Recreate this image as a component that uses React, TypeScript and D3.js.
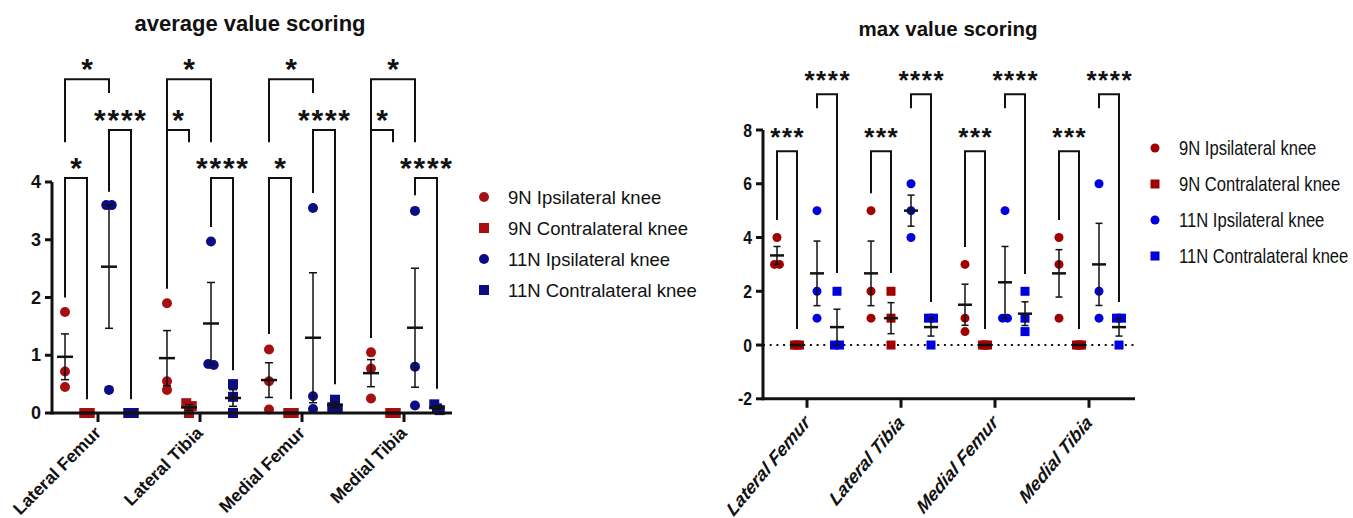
import { useMemo } from "react";
import * as d3 from "d3";

type Bracket = {
    cat: number;
    from: number;
    to: number;
    label: string;
    top: number;
    left: number;
    right: number;
};

const categories = ["Lateral Femur", "Lateral Tibia", "Medial Femur", "Medial Tibia"];
const seriesNames = [
    "9N Ipsilateral knee",
    "9N Contralateral knee",
    "11N Ipsilateral knee",
    "11N Contralateral knee",
];
const shapes = ["circle", "square", "circle", "square"];

// average value scoring, one row of replicates per category
const avgIpsi9 = [[1.75, 0.72, 0.45], [1.9, 0.55, 0.4], [1.1, 0.55, 0.06], [1.05, 0.77, 0.25]];
const avgContra9 = [[0, 0, 0], [0.17, 0.12, 0], [0, 0, 0], [0, 0, 0]];
const avgIpsi11 = [[3.6, 3.6, 0.4], [2.97, 0.85, 0.83], [3.55, 0.29, 0.07], [3.5, 0.8, 0.13]];
const avgContra11 = [[0, 0, 0], [0.5, 0.28, 0], [0.23, 0.1, 0.08], [0.15, 0.08, 0.05]];

// max value scoring
const maxIpsi9 = [[4, 3, 3], [5, 2, 1], [3, 1, 0.5], [4, 3, 1]];
const maxContra9 = [[0, 0, 0], [2, 1, 0], [0, 0, 0], [0, 0, 0]];
const maxIpsi11 = [[5, 2, 1], [6, 5, 4], [5, 1, 1], [6, 2, 1]];
const maxContra11 = [[2, 0, 0], [1, 1, 0], [2, 1, 0.5], [1, 1, 0]];

const avgTicks = [0, 1, 2, 3, 4];
const maxTicks = [-2, 0, 2, 4, 6, 8];

// significance brackets (series index from/to, heights in data units)
const avgBrackets: Bracket[] = [
    { cat: 0, from: 0, to: 2, label: "*", top: 5.78, left: 4.69, right: 5.54 },
    { cat: 0, from: 2, to: 3, label: "****", top: 4.9, left: 3.83, right: 0.24 },
    { cat: 0, from: 0, to: 1, label: "*", top: 4.07, left: 2.0, right: 0.24 },
    { cat: 1, from: 0, to: 2, label: "*", top: 5.78, left: 4.69, right: 4.69 },
    { cat: 1, from: 0, to: 1, label: "*", top: 4.9, left: 2.15, right: 4.69 },
    { cat: 1, from: 2, to: 3, label: "****", top: 4.07, left: 3.22, right: 0.74 },
    { cat: 2, from: 0, to: 2, label: "*", top: 5.78, left: 4.69, right: 5.54 },
    { cat: 2, from: 2, to: 3, label: "****", top: 4.9, left: 3.81, right: 0.5 },
    { cat: 2, from: 0, to: 1, label: "*", top: 4.07, left: 1.37, right: 0.24 },
    { cat: 3, from: 0, to: 2, label: "*", top: 5.78, left: 4.69, right: 4.69 },
    { cat: 3, from: 0, to: 1, label: "*", top: 4.9, left: 1.3, right: 4.69 },
    { cat: 3, from: 2, to: 3, label: "****", top: 4.07, left: 3.77, right: 0.42 },
];

const maxBrackets: Bracket[] = [
    { cat: 0, from: 2, to: 3, label: "****", top: 9.33, left: 8.81, right: 2.68 },
    { cat: 0, from: 0, to: 1, label: "***", top: 7.21, left: 4.65, right: 0.6 },
    { cat: 1, from: 2, to: 3, label: "****", top: 9.33, left: 8.81, right: 1.6 },
    { cat: 1, from: 0, to: 1, label: "***", top: 7.21, left: 5.65, right: 2.68 },
    { cat: 2, from: 2, to: 3, label: "****", top: 9.33, left: 8.81, right: 2.64 },
    { cat: 2, from: 0, to: 1, label: "***", top: 7.21, left: 3.65, right: 0.6 },
    { cat: 3, from: 2, to: 3, label: "****", top: 9.33, left: 8.81, right: 1.6 },
    { cat: 3, from: 0, to: 1, label: "***", top: 7.21, left: 4.65, right: 0.6 },
];

const ARIAL = "'Liberation Sans', Arial, sans-serif";

type PanelProps = {
    title: string;
    titleX: number;
    titleY: number;
    titleSize: number;
    series: number[][][];
    colors: string[];
    yDomain: [number, number];
    yRange: [number, number];
    xRange: [number, number];
    offsetRange: [number, number];
    axisLeft: number;
    axisRight: number;
    ticks: number[];
    brackets: Bracket[];
    r: number;
    sq: number;
    meanHalf: number;
    capHalf: number;
    narrow: number;
    tickSize: number;
    labelSize: number;
    labelItalic: boolean;
    labelDy: number;
    starSize: number;
    starGap: number;
    zeroLine: boolean;
    legendX: number;
    legendY: number;
    legendStep: number;
    legendSize: number;
};

// spreads replicates that would overlap at the same height
const spread = (vals: number[], y: (v: number) => number, size: number) => {
    const ys = vals.map((v) => y(v));
    const idx = d3.range(vals.length).sort((a, b) => ys[a] - ys[b]);
    const off = vals.map(() => 0);
    let i = 0;
    while (i < idx.length) {
        let j = i;
        while (j + 1 < idx.length && ys[idx[j + 1]] - ys[idx[i]] < size * 0.6) j++;
        const n = j - i + 1;
        const step = n > 1 ? (size * 0.55) / (n - 1) : 0;
        for (let k = 0; k < n; k++) off[idx[i + k]] = (k - (n - 1) / 2) * step;
        i = j + 1;
    }
    return off;
};

const Panel = (p: PanelProps) => {
    const y = d3.scaleLinear().domain(p.yDomain).range(p.yRange);
    const x = d3.scaleBand().domain(categories).range(p.xRange);
    const off = d3.scalePoint<number>().domain([0, 1, 2, 3]).range(p.offsetRange);
    const center = (cat: number) => (x(categories[cat]) ?? 0) + x.bandwidth() / 2;
    const cx = (cat: number, s: number) => center(cat) + (off(s) ?? 0);
    const baseY = p.yRange[0];

    const marks = useMemo(() => {
        const out: JSX.Element[] = [];
        p.series.forEach((ser, s) => {
            ser.forEach((vals, c) => {
                const mx = cx(c, s);
                const mean = d3.mean(vals) ?? 0;
                const sem = (d3.deviation(vals) ?? 0) / Math.sqrt(vals.length);
                const dx = spread(vals, y, shapes[s] === "circle" ? p.r * 2 : p.sq);
                vals.forEach((v, k) => {
                    out.push(
                        shapes[s] === "circle" ? (
                            <circle key={`p${s}-${c}-${k}`} cx={mx + dx[k]} cy={y(v)} r={p.r} fill={p.colors[s]} />
                        ) : (
                            <rect
                                key={`p${s}-${c}-${k}`}
                                x={mx + dx[k] - p.sq / 2}
                                y={y(v) - p.sq / 2}
                                width={p.sq}
                                height={p.sq}
                                fill={p.colors[s]}
                            />
                        )
                    );
                });
                out.push(
                    <g key={`e${s}-${c}`} stroke="#111" fill="none">
                        <line x1={mx} x2={mx} y1={y(mean + sem)} y2={y(mean - sem)} strokeWidth={1.5} />
                        <line x1={mx - p.capHalf} x2={mx + p.capHalf} y1={y(mean + sem)} y2={y(mean + sem)} strokeWidth={1.5} />
                        <line x1={mx - p.capHalf} x2={mx + p.capHalf} y1={y(mean - sem)} y2={y(mean - sem)} strokeWidth={1.5} />
                        <line x1={mx - p.meanHalf} x2={mx + p.meanHalf} y1={y(mean)} y2={y(mean)} strokeWidth={2.5} />
                    </g>
                );
            });
        });
        return out;
    }, [p]);

    return (
        <g>
            <text
                x={p.titleX}
                y={p.titleY}
                textAnchor="middle"
                dominantBaseline="central"
                fontFamily={ARIAL}
                fontWeight="bold"
                fontSize={p.titleSize}
                fill="#111"
            >
                {p.title}
            </text>

            {p.zeroLine && (
                <line
                    x1={p.axisLeft}
                    x2={p.axisRight}
                    y1={y(0)}
                    y2={y(0)}
                    stroke="#111"
                    strokeWidth={2}
                    strokeDasharray="2,4.7"
                />
            )}

            {marks}

            {/* axes */}
            <g stroke="#111" strokeWidth={3} fill="none">
                <line x1={p.axisLeft} x2={p.axisLeft} y1={y(p.ticks[p.ticks.length - 1])} y2={baseY + 1.5} />
                <line x1={p.axisLeft} x2={p.axisRight} y1={baseY} y2={baseY} />
                {p.ticks.map((t) => (
                    <line key={t} x1={p.axisLeft - 7} x2={p.axisLeft} y1={y(t)} y2={y(t)} />
                ))}
                {categories.map((c, i) => (
                    <line key={c} x1={center(i)} x2={center(i)} y1={baseY} y2={baseY + 9} />
                ))}
            </g>
            {p.ticks.map((t) => (
                <text
                    key={t}
                    transform={`translate(${p.axisLeft - 11},${y(t)}) scale(${p.narrow},1)`}
                    textAnchor="end"
                    dominantBaseline="central"
                    fontFamily={ARIAL}
                    fontWeight="bold"
                    fontSize={p.tickSize}
                    fill="#111"
                >
                    {t}
                </text>
            ))}
            {categories.map((c, i) => (
                <text
                    key={c}
                    transform={`translate(${center(i) + 4},${baseY + p.labelDy}) scale(${p.narrow},1) rotate(-45)`}
                    textAnchor="end"
                    fontFamily={ARIAL}
                    fontWeight="bold"
                    fontStyle={p.labelItalic ? "italic" : "normal"}
                    fontSize={p.labelSize}
                    fill="#111"
                >
                    {c}
                </text>
            ))}

            {/* significance brackets */}
            {p.brackets.map((b, i) => {
                const x1 = cx(b.cat, b.from);
                const x2 = cx(b.cat, b.to);
                const spacing = p.starSize * 0.06;
                return (
                    <g key={i}>
                        <path
                            d={`M${x1},${y(b.left)}V${y(b.top)}H${x2}V${y(b.right)}`}
                            fill="none"
                            stroke="#111"
                            strokeWidth={2}
                        />
                        <text
                            x={(x1 + x2) / 2 + spacing / 2}
                            y={y(b.top) + p.starGap}
                            textAnchor="middle"
                            fontFamily={ARIAL}
                            fontWeight="bold"
                            fontSize={p.starSize}
                            letterSpacing={spacing}
                            fill="#111"
                        >
                            {b.label}
                        </text>
                    </g>
                );
            })}

            {/* legend */}
            {seriesNames.map((name, i) => {
                const ly = p.legendY + i * p.legendStep;
                return (
                    <g key={name}>
                        {shapes[i] === "circle" ? (
                            <circle cx={p.legendX} cy={ly} r={p.r} fill={p.colors[i]} />
                        ) : (
                            <rect x={p.legendX - p.sq / 2} y={ly - p.sq / 2} width={p.sq} height={p.sq} fill={p.colors[i]} />
                        )}
                        <text
                            transform={`translate(${p.legendX + 24},${ly}) scale(${p.narrow},1)`}
                            dominantBaseline="central"
                            fontFamily={ARIAL}
                            fontSize={p.legendSize}
                            fill="#111"
                        >
                            {name}
                        </text>
                    </g>
                );
            })}
        </g>
    );
};

const App = () => {
    return (
        <svg width={1353} height={518} style={{ position: "absolute", left: 0, top: 0, background: "#fff" }}>
            <Panel
                title="average value scoring"
                titleX={250}
                titleY={23}
                titleSize={22}
                series={[avgIpsi9, avgContra9, avgIpsi11, avgContra11]}
                colors={["#a50f0f", "#a50f0f", "#0c0c84", "#0c0c84"]}
                yDomain={[0, 4]}
                yRange={[413, 182]}
                xRange={[47, 455]}
                offsetRange={[-33, 33]}
                axisLeft={52}
                axisRight={452}
                ticks={avgTicks}
                brackets={avgBrackets}
                r={5}
                sq={10}
                meanHalf={8}
                capHalf={4}
                narrow={1}
                tickSize={18}
                labelSize={17.5}
                labelItalic={false}
                labelDy={21}
                starSize={30}
                starGap={0}
                zeroLine={false}
                legendX={484}
                legendY={197}
                legendStep={31}
                legendSize={18.5}
            />
            <Panel
                title="max value scoring"
                titleX={948}
                titleY={28}
                titleSize={20.5}
                series={[maxIpsi9, maxContra9, maxIpsi11, maxContra11]}
                colors={["#a00000", "#a00000", "#0000dd", "#0000dd"]}
                yDomain={[-2, 8]}
                yRange={[398.8, 130]}
                xRange={[760, 1136]}
                offsetRange={[-30, 30]}
                axisLeft={763}
                axisRight={1135}
                ticks={maxTicks}
                brackets={maxBrackets}
                r={4.5}
                sq={9}
                meanHalf={7}
                capHalf={3.5}
                narrow={0.83}
                tickSize={19}
                labelSize={20}
                labelItalic={true}
                labelDy={25}
                starSize={26}
                starGap={-5}
                zeroLine={true}
                legendX={1155}
                legendY={148}
                legendStep={36}
                legendSize={20}
            />
        </svg>
    );
};

export default App;
